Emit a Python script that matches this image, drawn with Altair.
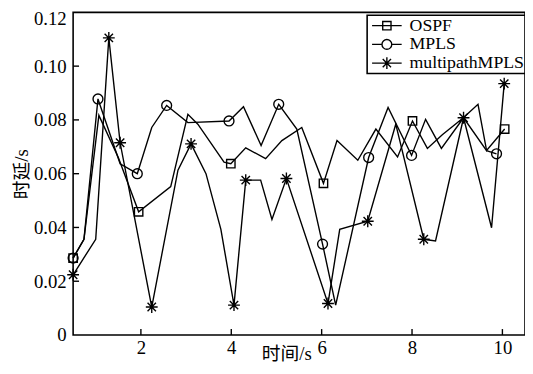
import altair as alt
import pandas as pd

series_names = ["OSPF", "MPLS", "multipathMPLS"]

# OSPF (square markers)
ospf_t = [0.5, 0.74, 1.07, 1.50, 1.95, 2.66, 3.04, 3.26, 3.84, 3.99, 4.32, 4.76, 5.12, 5.56,
          6.04, 6.34, 6.80, 7.20, 7.68, 8.01, 8.34, 8.67, 9.13, 9.46, 9.65, 10.05]
ospf_d = [0.0286, 0.0356, 0.0817, 0.0660, 0.0458, 0.0552, 0.0821, 0.0784, 0.0643, 0.0637, 0.0696,
          0.0656, 0.0723, 0.0772, 0.0564, 0.0723, 0.0650, 0.0766, 0.0662, 0.0796, 0.0694, 0.0745,
          0.0807, 0.0858, 0.0686, 0.0766]
ospf_marked = [0, 4, 9, 14, 19, 25]

# MPLS (circle markers)
mpls_t = [0.5, 0.74, 1.05, 1.54, 1.92, 2.24, 2.57, 3.04, 3.95, 4.27, 4.66, 5.05, 5.45, 6.02,
          6.31, 7.04, 7.47, 7.99, 8.30, 8.65, 9.14, 9.65, 9.87]
mpls_d = [0.0286, 0.0356, 0.0878, 0.0637, 0.0600, 0.0772, 0.0854, 0.0790, 0.0796, 0.0849, 0.0705,
          0.0858, 0.0766, 0.0338, 0.0111, 0.0660, 0.0846, 0.0668, 0.0802, 0.0694, 0.0808, 0.0686,
          0.0674]
mpls_marked = [0, 2, 4, 6, 8, 11, 13, 15, 17, 22]

# multipathMPLS (asterisk markers)
multi_t = [0.5, 1.00, 1.29, 1.54, 2.24, 2.82, 3.11, 3.44, 3.77, 4.06, 4.32, 4.65, 4.90, 5.22,
           6.14, 6.40, 7.02, 7.64, 8.26, 8.52, 9.14, 9.76, 10.04]
multi_d = [0.0224, 0.0356, 0.1105, 0.0715, 0.0104, 0.0613, 0.0711, 0.0600, 0.0393, 0.0111, 0.0576,
           0.0576, 0.0430, 0.0582, 0.0117, 0.0393, 0.0423, 0.0784, 0.0356, 0.0350, 0.0808, 0.0399,
           0.0935]
multi_marked = [0, 2, 3, 4, 6, 9, 10, 13, 14, 16, 18, 20, 22]

x_ticks = [2, 4, 6, 8, 10]
y_ticks = [0, 0.02, 0.04, 0.06, 0.08, 0.10, 0.12]

rows = []
for name, ts, ds, marks in [
    ("OSPF", ospf_t, ospf_d, ospf_marked),
    ("MPLS", mpls_t, mpls_d, mpls_marked),
    ("multipathMPLS", multi_t, multi_d, multi_marked),
]:
    for i, (t, d) in enumerate(zip(ts, ds)):
        rows.append({"series": name, "t": t, "delay": d, "order": i, "marked": i in marks})
df = pd.DataFrame(rows)

W, H = 458, 327
SERIF = "Liberation Serif, Noto Sans CJK SC"

x_scale = alt.Scale(domain=[0.5, 10.5], nice=False, zero=False)
y_scale = alt.Scale(domain=[0, 0.12], nice=False, zero=False)

x_axis = alt.Axis(values=x_ticks, title="时间/s", labelPadding=4,
                  titleX=216, titleY=19, titleAlign="center", titleBaseline="middle")
y_axis = alt.Axis(values=y_ticks, title="时延/s", labelPadding=7,
                  labelExpr="datum.value == 0 ? '0' : format(datum.value, '.2f')",
                  labelOffset={"condition": {"test": "datum.value >= 0.119", "value": 6}, "value": 0},
                  titleX=-52, titleY=163.5, titleAngle=-90,
                  titleAlign="center", titleBaseline="middle")

marker_shapes = [
    "M-0.85,-0.85H0.85V0.85H-0.85Z",
    "circle",
    "M-1.2,0H1.2M0,-1.2V1.2M-0.85,-0.85L0.85,0.85M-0.85,0.85L0.85,-0.85",
]
legend_shapes = [
    "M-1,0H1M-0.28,-0.28H0.28V0.28H-0.28Z",
    "M-1,0H-0.33M0.33,0H1M0.33,0A0.33,0.33,0,1,1,-0.33,0A0.33,0.33,0,1,1,0.33,0",
    "M-1,0H1M0,-0.4V0.4M-0.28,-0.28L0.28,0.28M-0.28,0.28L0.28,-0.28",
]

X = alt.X("t:Q", scale=x_scale, axis=x_axis)
Y = alt.Y("delay:Q", scale=y_scale, axis=y_axis)

lines = alt.Chart(df).mark_line(color="black", strokeWidth=1.4).encode(
    x=X, y=Y, detail="series:N", order="order:Q",
)

markers = alt.Chart(df).transform_filter("datum.marked").mark_point(
    filled=False, color="black", strokeWidth=1.4, size=100, opacity=1
).encode(
    x=X, y=Y,
    shape=alt.Shape("series:N", scale=alt.Scale(domain=series_names, range=marker_shapes), legend=None),
)

legend_layer = alt.Chart(df).transform_filter("datum.t < 0").mark_point(
    filled=False, color="black", strokeWidth=1.4, size=900, opacity=1
).encode(
    x=X, y=Y,
    shape=alt.Shape("series:N", scale=alt.Scale(domain=series_names, range=legend_shapes),
                    legend=alt.Legend(title=None, orient="none", legendX=298, legendY=3,
                                      symbolSize=900, clipHeight=19, rowPadding=0,
                                      padding=1, symbolOffset=3, labelOffset=7,
                                      labelFont=SERIF, labelFontSize=18, labelColor="black",
                                      strokeColor="black", symbolStrokeColor="black",
                                      symbolFillColor="transparent", symbolStrokeWidth=1.4)),
)

ytick_df = pd.DataFrame({"t": [1.0] * (len(y_ticks) - 2), "delay": y_ticks[1:-1]})
xtick_df = pd.DataFrame({"t": x_ticks, "delay": [0.0] * len(x_ticks)})

yticks = alt.Chart(ytick_df).mark_rule(color="black", strokeWidth=1.4).encode(
    y=Y, x=alt.value(0), x2=alt.value(6)
)
xticks = alt.Chart(xtick_df).mark_rule(color="black", strokeWidth=1.4).encode(
    x=X, y=alt.value(H), y2=alt.value(H - 6)
)

chart = alt.layer(lines, markers, yticks, xticks, legend_layer).resolve_scale(
    shape="independent"
).properties(
    width=W, height=H,
    autosize=alt.AutoSizeParams(type="none"),
    padding={"left": 66, "top": 2, "right": 0, "bottom": 29},
).configure_view(
    stroke="black", strokeWidth=1.6
).configure_axis(
    grid=False, ticks=False, tickSize=0, domain=False,
    labelFont=SERIF, labelFontSize=19, labelColor="black",
    titleFont=SERIF, titleFontSize=19, titleColor="black", titleFontWeight="normal",
).configure_legend(
    strokeWidth=1.6
)

chart.save("out.html", embed_options={"renderer": "svg", "actions": False})
